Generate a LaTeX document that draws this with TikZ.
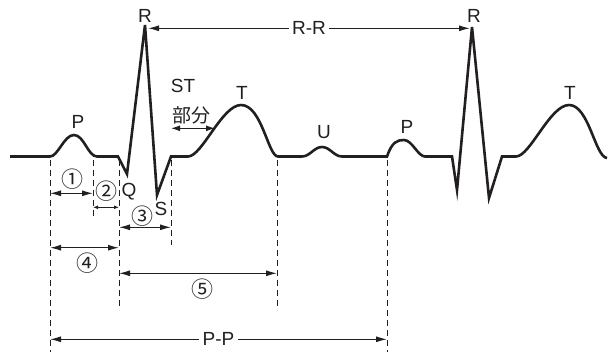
\documentclass[tikz,border=0pt]{standalone}
\usepackage{fontspec}
\setmainfont{Liberation Sans}
\newfontfamily\jpfont{Noto Sans CJK JP}
\usepackage{tikz}
\usetikzlibrary{arrows.meta,positioning,calc}
\definecolor{inkDark}{RGB}{35, 31, 32}

\tikzset{
  wave/.style={draw=inkDark, line width=2.6pt},
  guide/.style={draw=inkDark, line width=0.9pt, dash pattern=on 6pt off 4pt},
  span/.style={draw=inkDark, line width=1.2pt, {Latex[length=11pt,width=6pt]}-{Latex[length=11pt,width=6pt]}},
  smallspan/.style={draw=inkDark, line width=1pt, {Latex[length=5pt,width=4pt]}-{Latex[length=5pt,width=4pt]}},
  lbl/.style={text=inkDark, font=\fontsize{19}{22}\selectfont, inner sep=0pt, anchor=base},
  num/.style={text=inkDark, font=\jpfont\fontsize{22}{24}\selectfont, inner sep=0pt},
}

\begin{document}
\begin{tikzpicture}[x=1pt, y=-1pt]
  \useasboundingbox (0,0) rectangle (612,353);

  % the trace
  \draw[wave] (10,156.5) -- (50,156.5)
    .. controls (58,156.5) and (64,135) .. (74,135)
    .. controls (84,135) and (88,156.5) .. (97,156.5)
    -- (118,156.5) -- (127,174) -- (145,25) -- (157,195) -- (171,156.5) -- (188,156.5)
    .. controls (202,156.5) and (222,105) .. (241,105)
    .. controls (262,105) and (268,156.5) .. (278,156.5)
    -- (302,156.5)
    .. controls (310,156.5) and (314,147) .. (322,147)
    .. controls (330,147) and (334,156.5) .. (342,156.5)
    -- (387,156.5)
    .. controls (392,142) and (397,140) .. (404,140)
    .. controls (412,140) and (418,156.5) .. (425,156.5)
    -- (452,156.5) -- (457,190) -- (472,27) -- (489,198) -- (502,156.5) -- (516,156.5)
    .. controls (530,156.5) and (550,105) .. (569,105)
    .. controls (589,105) and (595,157) .. (607,158);

  % guide lines
  \foreach \x/\yb [count=\i] in {50/352, 93/217, 119/310, 171/245, 277/310, 387/352} {
    \coordinate (g\i t) at (\x,160);
    \coordinate (g\i b) at (\x,\yb);
    \draw[guide] (g\i t) -- (g\i b);
  }

  % wave labels
  \node (rA) [lbl] at (145,23) {R};
  \node (rB) [lbl] at (474,23) {R};
  \node (pA) [lbl] at (78,128) {P};
  \node (pB) [lbl] at (407,133) {P};
  \node (tA) [lbl] at (242,99) {T};
  \node (tB) [lbl] at (570,99) {T};
  \node (u) [lbl] at (324,138) {U};
  \node (q) [lbl] at (129,196) {Q};
  \node (s) [lbl] at (161,215) {S};
  \node (st) [lbl] at (183,92) {ST};
  \node (stPart) [text=inkDark, font=\jpfont\fontsize{19}{22}\selectfont, inner sep=0pt] at (191,115) {部分};

  % ST segment
  \coordinate (stL) at (171,128.3);
  \coordinate (stR) at (215,128.3);
  \draw[smallspan, line width=1.2pt, {Latex[length=9pt,width=6pt]}-{Latex[length=9pt,width=6pt]}] (stL) -- (stR);

  % R-R
  \coordinate (rrL) at (148,28.3);
  \coordinate (rrR) at (470,28.3);
  \draw[span] (rrL) -- node (rr) [lbl, anchor=center, fill=white, inner xsep=3pt, inner ysep=1pt] {R-R} (rrR);

  % intervals
  \coordinate (i1L) at (50,193.3);  \coordinate (i1R) at (93,193.3);
  \coordinate (i2L) at (93,207.3);  \coordinate (i2R) at (119,207.3);
  \coordinate (i3L) at (119,227.3); \coordinate (i3R) at (171,227.3);
  \coordinate (i4L) at (50,247.7);  \coordinate (i4R) at (119,247.7);
  \coordinate (i5L) at (119,273.3); \coordinate (i5R) at (277,273.3);
  \coordinate (ppL) at (50,339.3);  \coordinate (ppR) at (387,339.3);

  \draw[span] (i1L) -- (i1R);
  \draw[smallspan] (i2L) -- (i2R);
  \draw[span] (i3L) -- (i3R);
  \draw[span] (i4L) -- (i4R);
  \draw[span] (i5L) -- (i5R);
  \draw[span] (ppL) -- node (pp) [lbl, anchor=center, fill=white, inner xsep=4pt, inner ysep=1pt] {P-P} (ppR);

  \node (n1) [num] at (72,179) {①};
  \node (n2) [num] at (106,191) {②};
  \node (n3) [num] at (142,216) {③};
  \node (n4) [num] at (87,263) {④};
  \node (n5) [num] at (202,289) {⑤};
\end{tikzpicture}
\end{document}
